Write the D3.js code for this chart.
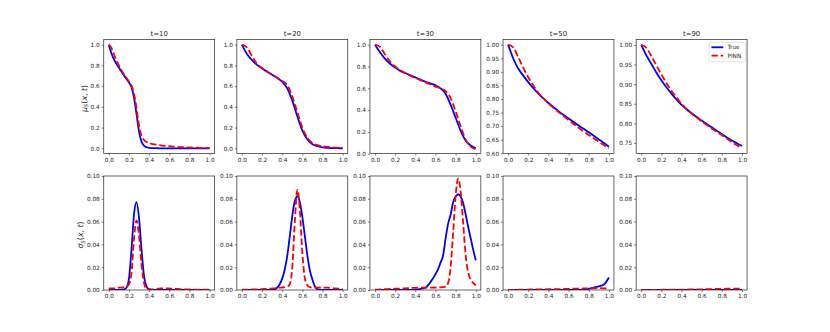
<!DOCTYPE html>
<html>
<head>
<meta charset="utf-8">
<script src="https://cdn.jsdelivr.net/npm/d3@7"></script>
<style>
  body { margin: 0; background: #fff; }
  svg { display: block; }
  text { font-family: "DejaVu Sans", sans-serif; fill: #262626; }
</style>
</head>
<body>
<svg id="chart" width="830" height="332"></svg>
<script>
// x grids
const xFine = [0,0.025,0.05,0.075,0.1,0.125,0.15,0.175,0.2,0.225,0.25,0.275,0.3,0.325,0.35,0.375,0.4,0.425,0.45,0.475,
  0.5,0.525,0.55,0.575,0.6,0.625,0.65,0.675,0.7,0.725,0.75,0.775,0.8,0.825,0.85,0.875,0.9,0.925,0.95,0.975,1.0];
const xCoarse = [0,0.05,0.1,0.15,0.2,0.25,0.3,0.35,0.4,0.45,0.5,0.55,0.6,0.65,0.7,0.75,0.8,0.85,0.9,0.95,1.0];

const titles = ["t=10", "t=20", "t=30", "t=50", "t=90"];
const seriesNames = ["True", "PINN"];
const xTicks = [0, 0.2, 0.4, 0.6, 0.8, 1.0];
const sigmaTicks = [0, 0.02, 0.04, 0.06, 0.08, 0.10];
const muTicks = [
  [0, 0.2, 0.4, 0.6, 0.8, 1.0],
  [0, 0.2, 0.4, 0.6, 0.8, 1.0],
  [0, 0.2, 0.4, 0.6, 0.8, 1.0],
  [0.60, 0.65, 0.70, 0.75, 0.80, 0.85, 0.90, 0.95, 1.00],
  [0.75, 0.80, 0.85, 0.90, 0.95, 1.00]
];
const muDomains = [[-0.05, 1.05], [-0.05, 1.05], [0.0025, 1.0475], [0.599, 1.019], [0.723, 1.014]];
const sigmaDomain = [0, 0.10];

// mu_S(x,t), top row
const muTrue10 = [1.0,0.92,0.86,0.815,0.78,0.74,0.705,0.67,0.635,0.59,0.49,0.33,0.16,0.065,0.025,0.01,0.004,0.002,0.001,0.001,
  0,0,0,0,0,0,0,0,0,0,0,0,0,0,0,0,0,0,0,0,0];
const muPinn10 = [1.0,0.97,0.91,0.85,0.8,0.755,0.715,0.68,0.645,0.605,0.53,0.39,0.22,0.12,0.08,0.06,0.05,0.043,0.038,0.034,
  0.03,0.027,0.024,0.022,0.02,0.018,0.016,0.014,0.012,0.011,0.01,0.009,0.008,0.007,0.006,0.006,0.005,0.005,0.004,0.004,0.004];
const muTrue20 = [1.0,0.91,0.85,0.805,0.77,0.74,0.71,0.68,0.64,0.58,0.46,0.31,0.17,0.085,0.04,0.02,0.01,0.005,0.002,0.001,0.0];
const muPinn20 = [1.0,0.975,0.89,0.815,0.775,0.74,0.71,0.68,0.65,0.61,0.5,0.35,0.2,0.1,0.05,0.03,0.02,0.014,0.01,0.007,0.005];
const muTrue30 = [1.0,0.93,0.87,0.825,0.79,0.76,0.74,0.72,0.70,0.68,0.66,0.645,0.628,0.6,0.55,0.45,0.33,0.21,0.12,0.075,0.05];
const muPinn30 = [1.0,0.98,0.91,0.845,0.8,0.765,0.74,0.715,0.695,0.675,0.655,0.635,0.615,0.6,0.575,0.51,0.39,0.25,0.13,0.065,0.04];
const muTrue50 = [1.0,0.95,0.912,0.886,0.862,0.84,0.82,0.802,0.785,0.77,0.755,0.741,0.728,0.715,0.702,0.69,0.677,0.664,0.651,0.638,0.624];
const muPinn50 = [1.0,0.99,0.955,0.915,0.88,0.85,0.823,0.802,0.784,0.767,0.752,0.737,0.722,0.708,0.694,0.68,0.667,0.655,0.642,0.63,0.618];
const muTrue90 = [1.0,0.974,0.952,0.93,0.91,0.892,0.876,0.861,0.847,0.836,0.826,0.816,0.807,0.798,0.79,0.781,0.773,0.764,0.756,0.749,0.742];
const muPinn90 = [1.0,0.993,0.972,0.948,0.925,0.903,0.883,0.866,0.85,0.837,0.825,0.815,0.805,0.796,0.787,0.778,0.77,0.761,0.752,0.744,0.737];

// sigma_S(x,t), bottom row
const sigTrue10 = [0,0,0,0,0,0,0.0005,0.002,0.01,0.035,0.066,0.077,0.063,0.035,0.012,0.003,0.0005,
  0,0,0,0,0,0,0,0,0,0,0,0,0,0,0,0,0,0,0,0,0,0,0,0];
const sigPinn10 = [0.0015,0.0015,0.0015,0.0015,0.002,0.002,0.0025,0.003,0.005,0.015,0.045,0.061,0.048,0.022,0.006,0.001,0.0005,0.0005,0.0005,0.001,
  0.0012,0.0015,0.0015,0.0015,0.0013,0.0012,0.001,0.001,0.0008,0.0007,0.0006,0.0005,0.0005,0.0005,0.0004,0.0004,0.0004,0.0003,0.0003,0.0003,0.0003];
const sigTrue20 = [0,0,0,0,0,0,0,0,0,0,0,0,0,0.0005,0.002,0.005,0.01,0.018,0.03,0.047,
  0.065,0.078,0.082,0.077,0.064,0.047,0.03,0.017,0.009,0.003,0.0005,0,0,0,0,0,0,0,0,0,0];
const sigPinn20 = [0.0003,0.0003,0.0004,0.0004,0.0005,0.0005,0.0006,0.0007,0.0008,0.0009,0.001,0.0012,0.0013,0.0015,0.0017,0.002,0.0022,0.0025,0.003,0.005,
  0.02,0.06,0.088,0.07,0.032,0.01,0.004,0.0025,0.002,0.002,0.002,0.0022,0.0022,0.002,0.002,0.0018,0.0016,0.0014,0.0012,0.001,0.001];
const sigTrue30 = [0,0,0,0,0,0,0,0,0,0,0,0,0,0,0,0,0.0003,0.0005,0.001,0.0015,
  0.002,0.004,0.007,0.01,0.014,0.018,0.024,0.03,0.045,0.058,0.066,0.077,0.082,0.084,0.082,0.076,0.066,0.055,0.045,0.035,0.026];
const sigPinn30 = [0.0003,0.0004,0.0005,0.0006,0.0007,0.0008,0.0009,0.001,0.0011,0.0012,0.0013,0.0014,0.0015,0.0016,0.0017,0.0018,0.0019,0.002,0.002,0.002,
  0.002,0.002,0.002,0.0021,0.0022,0.0022,0.0023,0.0025,0.003,0.006,0.02,0.05,0.083,0.098,0.086,0.058,0.03,0.015,0.009,0.006,0.004];
const sigTrue50 = [0,0,0,0,0,0,0,0,0,0,0,0,0,0,0,0,0.001,0.002,0.0032,0.0048,0.011];
const sigPinn50 = [0,0.0001,0.0002,0.0003,0.0004,0.0005,0.0005,0.0006,0.0007,0.0008,0.0008,0.0009,0.001,0.0011,0.0012,0.0013,0.0014,0.0015,0.0016,0.0015,0.0012];
const sigTrue90 = [0,0,0,0,0,0,0,0,0,0,0,0,0,0,0,0,0,0,0,0,0];
const sigPinn90 = [0,0,0.0001,0.0001,0.0002,0.0002,0.0003,0.0003,0.0004,0.0004,0.0005,0.0005,0.0006,0.0007,0.0008,0.0009,0.001,0.0011,0.0012,0.0012,0.0012];

const muRows = [
  [xFine, muTrue10, muPinn10], [xCoarse, muTrue20, muPinn20], [xCoarse, muTrue30, muPinn30],
  [xCoarse, muTrue50, muPinn50], [xCoarse, muTrue90, muPinn90]
];
const sigRows = [
  [xFine, sigTrue10, sigPinn10], [xFine, sigTrue20, sigPinn20], [xFine, sigTrue30, sigPinn30],
  [xCoarse, sigTrue50, sigPinn50], [xCoarse, sigTrue90, sigPinn90]
];

const svg = d3.select("#chart");
const panelW = 110.9, panelH = 114, gapX = 22.2;
const left0 = 103.75;
const rowTop = [39.5, 176];
const colors = ["#0000ff", "#ff0000"];

const x = d3.scaleLinear().domain([-0.05, 1.05]).range([0, panelW]);

function drawPanel(col, row, rowData, yDomain, yTicks, yFmt) {
  const g = svg.append("g")
    .attr("transform", `translate(${left0 + col * (panelW + gapX)},${rowTop[row]})`);
  const y = d3.scaleLinear().domain(yDomain).range([panelH, 0]);

  const clipId = `clip-${row}-${col}`;
  g.append("clipPath").attr("id", clipId)
    .append("rect").attr("width", panelW).attr("height", panelH);

  const [xs, trueVals, pinnVals] = rowData;
  const line = d3.line()
    .x((d, i) => x(xs[i]))
    .y(d => y(d))
    .curve(d3.curveMonotoneX);

  const plot = g.append("g").attr("clip-path", `url(#${clipId})`);
  plot.append("path")
    .attr("d", line(trueVals))
    .attr("fill", "none")
    .attr("stroke", colors[0])
    .attr("stroke-width", 1.8);
  plot.append("path")
    .attr("d", line(pinnVals))
    .attr("fill", "none")
    .attr("stroke", colors[1])
    .attr("stroke-width", 1.8)
    .attr("stroke-dasharray", "6.4,2.8");

  const xAxis = g.append("g")
    .attr("transform", `translate(0,${panelH})`)
    .call(d3.axisBottom(x).tickValues(xTicks).tickFormat(d3.format(".1f")).tickSize(2).tickPadding(2));
  const yAxis = g.append("g")
    .call(d3.axisLeft(y).tickValues(yTicks).tickFormat(d3.format(yFmt)).tickSize(2).tickPadding(2));
  [xAxis, yAxis].forEach(a => {
    a.select(".domain").remove();
    a.selectAll(".tick line").attr("stroke", "#262626").attr("stroke-width", 0.6);
    a.selectAll(".tick text").attr("font-size", 5.75).attr("fill", "#262626")
      .attr("font-family", "DejaVu Sans, sans-serif");
  });

  g.append("rect")
    .attr("width", panelW).attr("height", panelH)
    .attr("fill", "none").attr("stroke", "#262626").attr("stroke-width", 0.7);

  return g;
}

titles.forEach((t, i) => {
  const gTop = drawPanel(i, 0, muRows[i], muDomains[i], muTicks[i], i >= 3 ? ".2f" : ".1f");
  gTop.append("text")
    .attr("x", panelW / 2).attr("y", -3.5)
    .attr("text-anchor", "middle")
    .attr("font-size", 6.9)
    .text(t);
  drawPanel(i, 1, sigRows[i], sigmaDomain, sigmaTicks, ".2f");

  if (i === 4) {
    const lg = gTop.append("g").attr("transform", `translate(${panelW - 38},2.8)`);
    lg.append("rect")
      .attr("width", 36.4).attr("height", 19.4).attr("rx", 1.5)
      .attr("fill", "#fff").attr("fill-opacity", 0.8)
      .attr("stroke", "#d0d0d0").attr("stroke-width", 0.6);
    seriesNames.forEach((name, k) => {
      const yy = 5 + k * 8.4;
      lg.append("line")
        .attr("x1", 2.4).attr("x2", 14.2).attr("y1", yy).attr("y2", yy)
        .attr("stroke", colors[k]).attr("stroke-width", 1.8)
        .attr("stroke-dasharray", k === 1 ? "6.4,2.8" : null);
      lg.append("text")
        .attr("x", 18.4).attr("y", yy).attr("dy", "0.35em")
        .attr("font-size", 5.75)
        .text(name);
    });
  }
});

// y axis labels with math
function yLabel(xPos, yPos, symbol) {
  const t = svg.append("text")
    .attr("transform", `translate(${xPos},${yPos}) rotate(-90)`)
    .attr("text-anchor", "middle")
    .attr("font-size", 7.8);
  t.append("tspan").attr("font-style", "italic").text(symbol);
  t.append("tspan").attr("font-style", "italic").attr("font-size", 5.5).attr("dy", 1.8).text("S");
  t.append("tspan").attr("dy", -1.8).text("(");
  t.append("tspan").attr("font-style", "italic").text("x");
  t.append("tspan").text(", ");
  t.append("tspan").attr("font-style", "italic").text("t");
  t.append("tspan").text(")");
}
yLabel(86.5, rowTop[0] + panelH / 2 + 2, "μ");
yLabel(83, rowTop[1] + panelH / 2 + 2, "σ");
</script>
</body>
</html>
